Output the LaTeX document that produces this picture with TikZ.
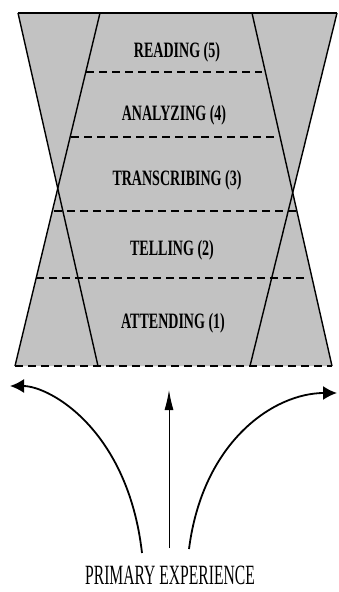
\documentclass[tikz,border=0pt]{standalone}
\usepackage{fontspec}
\setmainfont{Liberation Serif}
\usepackage{graphicx}
\usetikzlibrary{arrows.meta,calc}

\newcommand{\squeeze}[2][0.64]{\scalebox{#1}[1]{#2}}

\begin{document}
\begin{tikzpicture}[
    x=1bp, y=-1bp,
    levelbox/.style={inner sep=0pt, font=\fontsize{22}{22}\selectfont\bfseries},
    basebox/.style={inner sep=0pt, anchor=base, font=\fontsize{28}{28}\selectfont},
    edge/.style={line width=1.4bp},
    levelline/.style={line width=2.2bp, dash pattern=on 8bp off 5bp},
    arrow/.style={line width=1.8bp, -{Latex[length=14bp,width=14bp]}},
    midarrow/.style={line width=1bp, -{Latex[length=20bp,width=9bp]}}
]
\useasboundingbox (0,0) rectangle (338,592);

% Two trapezoids
\coordinate (atl) at (18,13);
\coordinate (atr) at (337,13);
\coordinate (abr) at (250,366);
\coordinate (abl) at (98,366);
\coordinate (btl) at (100,13);
\coordinate (btr) at (252,13);
\coordinate (bbr) at (332,366);
\coordinate (bbl) at (15,366);

\fill[gray!48] (atl) -- (atr) -- (abr) -- (abl) -- cycle;
\fill[gray!48] (btl) -- (btr) -- (bbr) -- (bbl) -- cycle;

\draw[edge] (atl) -- (abl);
\draw[edge] (atr) -- (abr);
\draw[edge] (btl) -- (bbl);
\draw[edge] (btr) -- (bbr);
\draw[line width=2.6bp] (atl) -- (atr);

% Level boundaries
\draw[levelline] (86,72) -- (262,72);
\draw[levelline] (71,137) -- (274,137);
\draw[levelline] (54,211) -- (296,211);
\draw[levelline] (36,278) -- (309,278);
\draw[levelline] (bbl) -- (bbr);

% Levels
\node[levelbox] (read) at (177,52) {\squeeze{READING (5)}};
\node[levelbox] (analyze) at (174,115) {\squeeze{ANALYZING (4)}};
\node[levelbox] (transcribe) at (177,180) {\squeeze{TRANSCRIBING (3)}};
\node[levelbox] (tell) at (172,250) {\squeeze{TELLING (2)}};
\node[levelbox] (attend) at (173,323) {\squeeze{ATTENDING (1)}};

% Primary experience
\node[basebox] (primary) at (170,584) {\squeeze[0.56]{PRIMARY EXPERIENCE}};

\coordinate (srcl) at (142,553);
\coordinate (srcm) at (169,548);
\coordinate (srcr) at (189,549);
\coordinate (tipl) at (10,386);
\coordinate (tipm) at (169,390);
\coordinate (tipr) at (337,393);

\draw[arrow] (srcl) .. controls (128,430) and (50,386) .. (tipl);
\draw[midarrow] (srcm) -- (tipm);
\draw[arrow] (srcr) .. controls (203,440) and (275,393) .. (tipr);

\end{tikzpicture}
\end{document}
